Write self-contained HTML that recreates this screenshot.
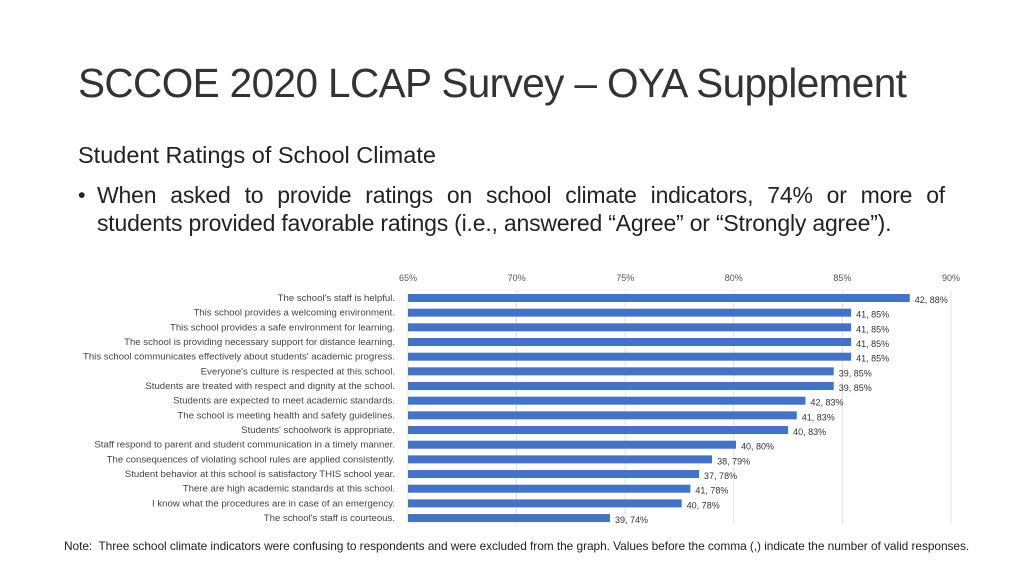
<!DOCTYPE html>
<html><head><meta charset="utf-8"><style>
body{margin:0;width:1024px;height:576px;background:#fff;overflow:hidden;font-family:"Liberation Sans",sans-serif;color:#222}
#title{position:absolute;left:78px;top:60px;font-size:40.5px;font-weight:normal;margin:0;letter-spacing:-0.6px;color:#333}
#sub{position:absolute;left:78px;top:142px;font-size:23.5px;color:#222}
#bullet{position:absolute;left:78px;top:181px;width:867px;font-size:21.5px;line-height:28px}
#bullet .t{letter-spacing:-0.2px;font-size:23px}
#note{position:absolute;left:64px;top:539px;font-size:11.9px;letter-spacing:-0.05px}
svg{position:absolute;left:0;top:0}
</style></head><body>
<h1 id="title">SCCOE 2020 LCAP Survey – OYA Supplement</h1>
<div id="sub">Student Ratings of School Climate</div>
<div id="bullet"><span style="position:absolute;left:0">•</span><div class="t" style="margin-left:19px;text-align:justify;text-align-last:justify">When asked to provide ratings on school climate indicators, 74% or more of</div><div class="t" style="margin-left:19px">students provided favorable ratings (i.e., answered “Agree” or “Strongly agree”).</div></div>
<svg id="chart" width="1024" height="576"></svg>
<div id="note">Note:&nbsp; Three school climate indicators were confusing to respondents and were excluded from the graph. Values before the comma (,) indicate the number of valid responses.</div>
<script>
const categories=["The school's staff is helpful.","This school provides a welcoming environment.","This school provides a safe environment for learning.","The school is providing necessary support for distance learning.","This school communicates effectively about students' academic progress.","Everyone's culture is respected at this school.","Students are treated with respect and dignity at the school.","Students are expected to meet academic standards.","The school is meeting health and safety guidelines.","Students' schoolwork is appropriate.","Staff respond to parent and student communication in a timely manner.","The consequences of violating school rules are applied consistently.","Student behavior at this school is satisfactory THIS school year.","There are high academic standards at this school.","I know what the procedures are in case of an emergency.","The school's staff is courteous."];
const values=[88.1,85.4,85.4,85.4,85.4,84.6,84.6,83.3,82.9,82.5,80.1,79.0,78.4,78.0,77.6,74.3];
const counts=[42,41,41,41,41,39,39,42,41,40,40,38,37,41,40,39];
const ticks=[65,70,75,80,85,90];
const NS="http://www.w3.org/2000/svg",svg=document.getElementById('chart');
const x=v=>408+(v-65)*(951-408)/25;
const y=i=>298+i*14.67;
function mk(t,a){const e=document.createElementNS(NS,t);for(const k in a)e.setAttribute(k,a[k]);svg.appendChild(e);return e;}
ticks.forEach(t=>{
 const g=mk('line',{x1:x(t),x2:x(t),y1:291,y2:524,stroke:'#e0e0e0','stroke-width':1});
 
 
 const l=mk('text',{x:x(t),y:281,'font-size':9,fill:'#555','text-anchor':'middle'});
 l.textContent=t+'%';
 
 
});
categories.forEach((c,i)=>{
 const b=mk('rect',{x:x(65),y:y(i)-4,width:x(values[i])-x(65),height:8,fill:'#4472c4'});
 
 
 const l=mk('text',{x:395,y:y(i)+3,'font-size':9.6,fill:'#444','text-anchor':'end'});
 l.textContent=c;
 
 
 const v=mk('text',{x:x(values[i])+5,y:y(i)+5,'font-size':9,fill:'#333'});
 v.textContent=counts[i]+', '+Math.round(values[i])+'%';
 
 
});
</script>
</body></html>
